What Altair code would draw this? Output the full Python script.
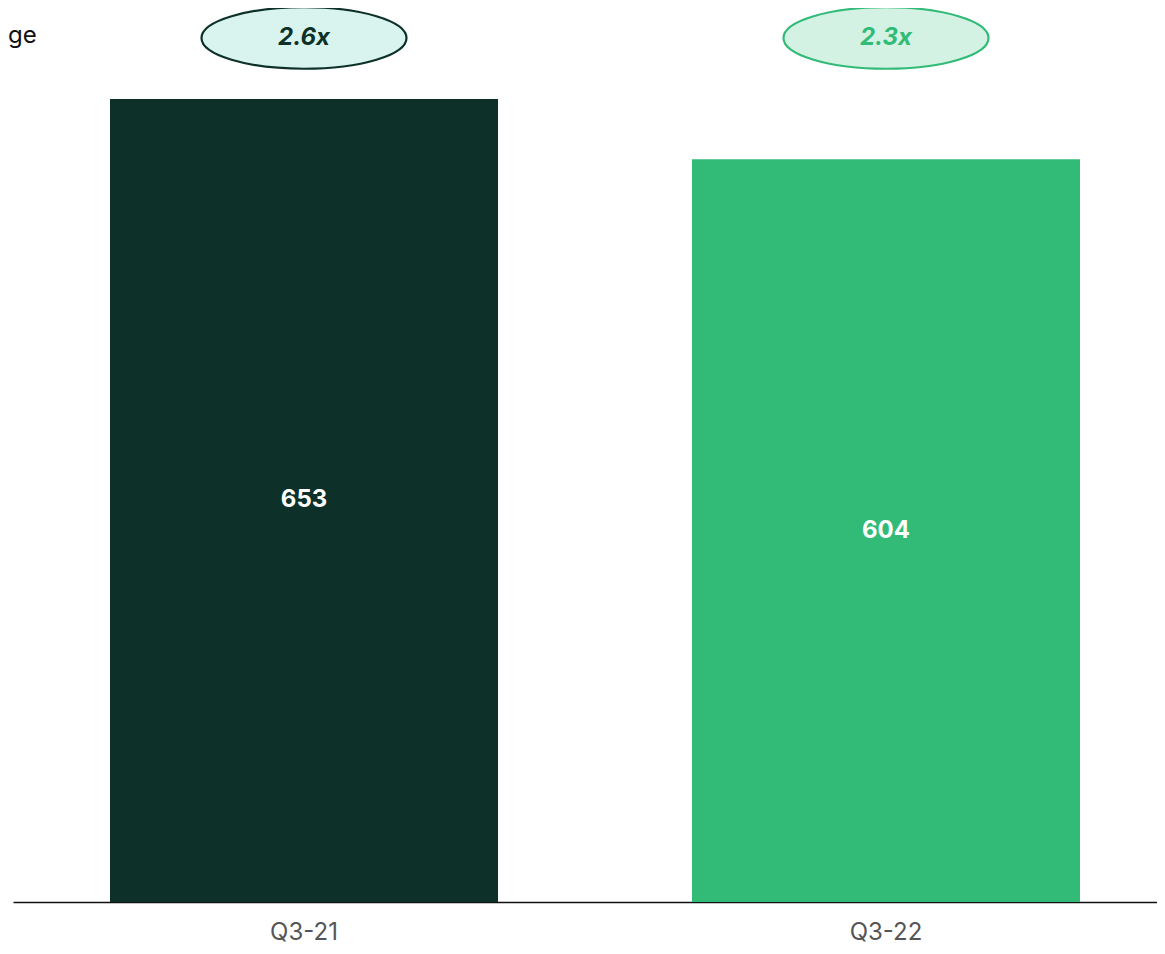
import altair as alt
import pandas as pd

quarters = ["Q3-21", "Q3-22"]
values = [653, 604]
multiples = ["2.6x", "2.3x"]
bar_colors = ["#0d3129", "#31bb77"]
bubble_fills = ["#d9f4ef", "#d3f2e3"]
side_text = ["ge"]

df = pd.DataFrame({
    "quarter": quarters,
    "value": values,
    "multiple": multiples,
    "color": bar_colors,
    "fill": bubble_fills,
})
side_df = pd.DataFrame({"t": side_text})

FONT = "Inter"
ELLIPSE = "M-1,0 A1,0.3 0 1,1 1,0 A1,0.3 0 1,1 -1,0 Z"

x_enc = alt.X(
    "quarter:N",
    sort=quarters,
    scale=alt.Scale(range=[0, 1164], paddingInner=1 / 3, paddingOuter=1 / 6),
    axis=alt.Axis(
        title=None, labelAngle=0, domainColor="#111111", domainWidth=1.5,
        ticks=False, grid=False, labelFontSize=24, labelColor="#555555",
        labelFont=FONT, labelPadding=18,
    ),
)
y_scale = alt.Scale(domain=[0, 727], nice=False, zero=True)

base = alt.Chart(df)

bars = base.mark_bar().encode(
    x=x_enc,
    y=alt.Y("value:Q", scale=y_scale, axis=None),
    color=alt.Color("color:N", scale=None),
)

bar_text = base.transform_calculate(mid="datum.value / 2").mark_text(
    font=FONT, fontSize=24, fontWeight="bold", color="white", baseline="middle"
).encode(
    x=x_enc,
    y=alt.Y("mid:Q", scale=y_scale, axis=None),
    text="value:Q",
)

bubbles = base.mark_point(
    shape=ELLIPSE, size=42025, strokeWidth=2.2, opacity=1, fillOpacity=1, filled=False
).encode(
    x=x_enc,
    y=alt.value(30),
    fill=alt.Fill("fill:N", scale=None),
    stroke=alt.Stroke("color:N", scale=None),
)

bubble_text = base.mark_text(
    font=FONT, fontSize=24, fontWeight="bold", fontStyle="italic", baseline="middle"
).encode(
    x=x_enc,
    y=alt.value(30),
    text="multiple:N",
    color=alt.Color("color:N", scale=None),
)

side = alt.Chart(side_df).mark_text(
    font=FONT, fontSize=24, color="#111111", align="left", baseline="middle"
).encode(
    x=alt.value(-5),
    y=alt.value(28),
    text="t:N",
)

chart = alt.layer(bars, bar_text, bubbles, bubble_text, side).properties(
    width=1144,
    height=894,
    background="white",
    autosize=alt.AutoSizeParams(type="none"),
    padding={"left": 5, "right": 0, "top": 0, "bottom": 44},
).configure_view(strokeWidth=0, stroke="transparent")

chart.save("out.html", embed_options={"renderer": "svg", "actions": False})
